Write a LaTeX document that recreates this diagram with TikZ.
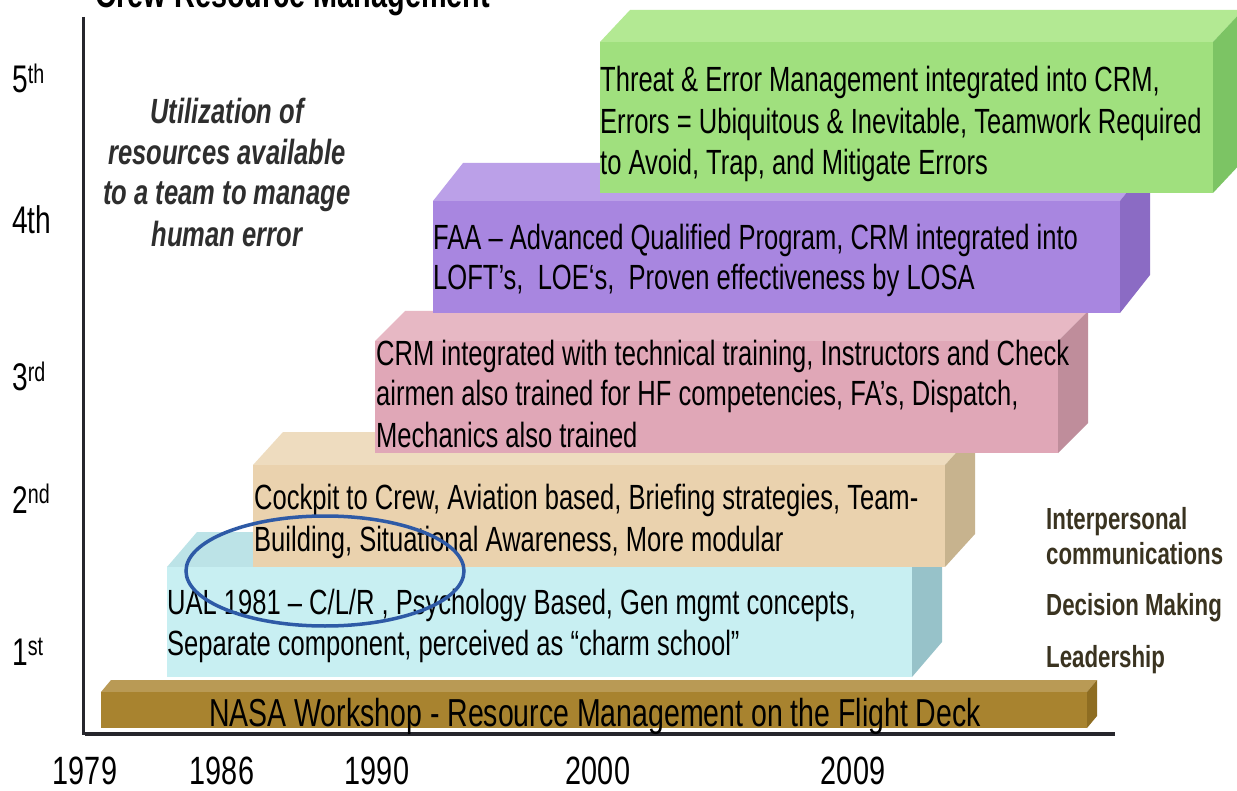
\documentclass[tikz,border=0pt]{standalone}
\usepackage{fontspec}
\setmainfont{Liberation Sans}[FakeStretch=0.73]

% bar colours: front, top and side faces
\definecolor{nasafront}{HTML}{A8832F}
\definecolor{nasatop}{HTML}{B99A55}
\definecolor{nasaside}{HTML}{8E6D22}
\definecolor{firstfront}{HTML}{C8EFF2}
\definecolor{firsttop}{HTML}{BCE3E7}
\definecolor{firstside}{HTML}{97C2C9}
\definecolor{secondfront}{HTML}{EAD2AE}
\definecolor{secondtop}{HTML}{EEDCBF}
\definecolor{secondside}{HTML}{C7B38E}
\definecolor{thirdfront}{HTML}{E0A7B7}
\definecolor{thirdtop}{HTML}{E7B8C4}
\definecolor{thirdside}{HTML}{BF8D9B}
\definecolor{fourthfront}{HTML}{A886E0}
\definecolor{fourthtop}{HTML}{BBA0E8}
\definecolor{fourthside}{HTML}{8B6BC4}
\definecolor{fifthfront}{HTML}{A0E07E}
\definecolor{fifthtop}{HTML}{B3E993}
\definecolor{fifthside}{HTML}{7CC464}
\definecolor{notegray}{HTML}{2E2E2E}
\definecolor{skillbrown}{HTML}{3A3320}
\definecolor{axisgray}{HTML}{26262C}
\definecolor{ringblue}{HTML}{2E5AA6}

% a 3-D bar: left, top, right, bottom, depth x, depth y, colour prefix
\newcommand\crmbar[7]{%
  \fill[#7top] (#1,#2) -- (#1+#5,#2-#6) -- (#3+#5,#2-#6) -- (#3,#2) -- cycle;
  \fill[#7side] (#3,#2) -- (#3+#5,#2-#6) -- (#3+#5,#4-#6) -- (#3,#4) -- cycle;
  \fill[#7front] (#1,#2) rectangle (#3,#4);
}

\begin{document}
\begin{tikzpicture}[x=1pt,y=-1pt,
  boxtext/.style={anchor=base west, inner sep=0pt, font=\fontsize{35}{41}\selectfont},
  yeartext/.style={anchor=base, inner sep=0pt, font=\fontsize{39.5}{44}\selectfont},
  gentext/.style={anchor=base west, inner sep=0pt, font=\fontsize{38.5}{44}\selectfont},
  notetext/.style={anchor=base, inner sep=0pt, text=notegray, font=\fontsize{35}{40}\selectfont\bfseries\itshape},
  skilltext/.style={anchor=base west, inner sep=0pt, text=skillbrown, font=\fontsize{30.5}{35}\selectfont\bfseries},
  nasatext/.style={anchor=base, inner sep=0pt, font=\fontsize{39}{44}\selectfont},
  titletext/.style={anchor=base, inner sep=0pt, font=\fontsize{39.5}{44}\selectfont\bfseries}]
\useasboundingbox (0,0) rectangle (1237,791);
\clip (0,0) rectangle (1237,791);
\fill[white] (0,0) rectangle (1237,791);

% title, cut off at the top edge
\node[titletext] (title) at (293,8) {Crew Resource Management};

% bars, lowest first
\crmbar{101}{692}{1087}{728}{10}{12}{nasa}
\crmbar{167}{567}{912}{677}{30}{35}{first}
\crmbar{253}{465}{945}{567}{30}{33}{second}
\crmbar{375}{341}{1058}{453}{30}{30}{third}
\crmbar{433}{201}{1120}{313}{30}{38}{fourth}
\crmbar{600}{42}{1213}{193}{30}{32}{fifth}

% axes
\coordinate (ytop) at (83,17);
\coordinate (ybot) at (83,735);
\coordinate (xleft) at (85,734);
\coordinate (xright) at (1115,734);
\draw[axisgray, line width=3pt] (ytop) -- (ybot);
\draw[axisgray, line width=4pt] (xleft) -- (xright);

% bar texts
\node[boxtext] (g1) at (600,92) {Threat \& Error Management integrated into CRM,};
\node[boxtext] (g2) at (600,134) {Errors = Ubiquitous \& Inevitable, Teamwork Required};
\node[boxtext] (g3) at (600,175) {to Avoid, Trap, and Mitigate Errors};
\node[boxtext] (p1) at (433,250) {FAA – Advanced Qualified Program, CRM integrated into};
\node[boxtext] (p2) at (433,290) {LOFT’s,~ LOE‘s,~ Proven effectiveness by LOSA};
\node[boxtext] (r1) at (376,366) {CRM integrated with technical training, Instructors and Check};
\node[boxtext] (r2) at (376,406) {airmen also trained for HF competencies, FA’s, Dispatch,};
\node[boxtext] (r3) at (376,447) {Mechanics also trained};
\node[boxtext] (t1) at (254,509) {Cockpit to Crew, Aviation based, Briefing strategies, Team-};
\node[boxtext] (t2) at (254,551) {Building, Situational Awareness, More modular};
\node[boxtext] (b1) at (167,614) {UAL 1981 – C/L/R , Psychology Based, Gen mgmt concepts,};
\node[boxtext] (b2) at (167,655) {Separate component, perceived as “charm school”};
\node[nasatext] (nasa) at (595,726) {NASA Workshop - Resource Management on the Flight Deck};

% generation labels
\node[gentext] (gen5) at (12,93) {5\textsuperscript{th}};
\node[gentext] (gen4) at (12,234) {4th};
\node[gentext] (gen3) at (12,391) {3\textsuperscript{rd}};
\node[gentext] (gen2) at (12,513) {2\textsuperscript{nd}};
\node[gentext] (gen1) at (12,665) {1\textsuperscript{st}};

% years
\node[yeartext] (y1979) at (85,784.5) {1979};
\node[yeartext] (y1986) at (222,784.5) {1986};
\node[yeartext] (y1990) at (377,784.5) {1990};
\node[yeartext] (y2000) at (598,784.5) {2000};
\node[yeartext] (y2009) at (853,784.5) {2009};

% definition
\node[notetext] (def1) at (227,124) {Utilization of};
\node[notetext] (def2) at (227,165) {resources available};
\node[notetext] (def3) at (227,205) {to a team to manage};
\node[notetext] (def4) at (227,247) {human error};

% skills
\node[skilltext] (s1) at (1046,529) {Interpersonal};
\node[skilltext] (s2) at (1046,564) {communications};
\node[skilltext] (s3) at (1046,615) {Decision Making};
\node[skilltext] (s4) at (1046,667) {Leadership};

% ring over the first generation
\draw[ringblue, line width=3.5pt] (325,571) ellipse [x radius=139, y radius=55];
\end{tikzpicture}
\end{document}
